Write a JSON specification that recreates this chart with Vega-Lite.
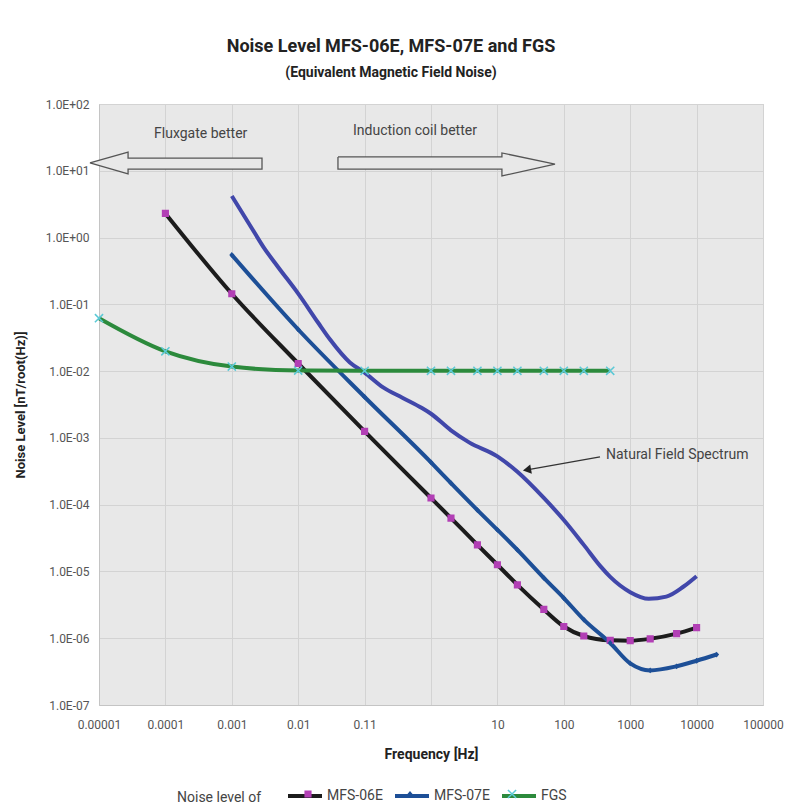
{
  "$schema": "https://vega.github.io/schema/vega-lite/v6.json",
  "autosize": {"type": "none"},
  "padding": {"left": 99, "top": 104, "right": 27, "bottom": 100},
  "width": 664,
  "height": 601,
  "background": "white",
  "title": {
    "text": "Noise Level MFS-06E, MFS-07E and FGS",
    "subtitle": "(Equivalent Magnetic Field Noise)",
    "anchor": "middle",
    "frame": "group",
    "dx": -40,
    "offset": 18,
    "font": "Roboto",
    "fontSize": 18,
    "fontWeight": "bold",
    "color": "#222222",
    "subtitleFont": "Roboto",
    "subtitleFontSize": 14,
    "subtitleFontWeight": "bold",
    "subtitleColor": "#222222",
    "subtitlePadding": 10
  },
  "config": {
    "view": {"fill": "#e8e8e8", "stroke": "#cacaca"},
    "axis": {
      "gridColor": "#d3d3d3",
      "gridWidth": 1,
      "tickSize": 0,
      "domainColor": "#c4c4c4",
      "labelFont": "Roboto",
      "labelFontSize": 12,
      "labelColor": "#555555",
      "titleFont": "Roboto",
      "titleFontSize": 13,
      "titleFontWeight": "bold",
      "titleColor": "#222222"
    }
  },
  "datasets": {
    "curves": [
      {"series": "MFS-06E", "f": 0.0001, "v": 2.3},
      {"series": "MFS-06E", "f": 0.001, "v": 0.144},
      {"series": "MFS-06E", "f": 0.01, "v": 0.013},
      {"series": "MFS-06E", "f": 0.1, "v": 0.00125},
      {"series": "MFS-06E", "f": 1, "v": 0.000126},
      {"series": "MFS-06E", "f": 2, "v": 0.000063},
      {"series": "MFS-06E", "f": 5, "v": 0.000025},
      {"series": "MFS-06E", "f": 10, "v": 0.0000126},
      {"series": "MFS-06E", "f": 20, "v": 0.0000063},
      {"series": "MFS-06E", "f": 50, "v": 0.0000027},
      {"series": "MFS-06E", "f": 100, "v": 0.0000015},
      {"series": "MFS-06E", "f": 200, "v": 0.00000108},
      {"series": "MFS-06E", "f": 500, "v": 0.00000093},
      {"series": "MFS-06E", "f": 1000, "v": 0.00000092},
      {"series": "MFS-06E", "f": 2000, "v": 0.00000098},
      {"series": "MFS-06E", "f": 5000, "v": 0.00000117},
      {"series": "MFS-06E", "f": 10000, "v": 0.00000144},
      {"series": "MFS-07E", "f": 0.001, "v": 0.55},
      {"series": "MFS-07E", "f": 0.01, "v": 0.042},
      {"series": "MFS-07E", "f": 0.1, "v": 0.0041},
      {"series": "MFS-07E", "f": 1, "v": 0.00043},
      {"series": "MFS-07E", "f": 2, "v": 0.00021},
      {"series": "MFS-07E", "f": 5, "v": 0.000083},
      {"series": "MFS-07E", "f": 10, "v": 0.000042},
      {"series": "MFS-07E", "f": 20, "v": 0.000021},
      {"series": "MFS-07E", "f": 50, "v": 0.000008},
      {"series": "MFS-07E", "f": 100, "v": 0.000004},
      {"series": "MFS-07E", "f": 200, "v": 0.0000019},
      {"series": "MFS-07E", "f": 500, "v": 0.00000085},
      {"series": "MFS-07E", "f": 1000, "v": 0.00000042},
      {"series": "MFS-07E", "f": 2000, "v": 0.00000033},
      {"series": "MFS-07E", "f": 5000, "v": 0.00000038},
      {"series": "MFS-07E", "f": 10000, "v": 0.00000046},
      {"series": "MFS-07E", "f": 20000, "v": 0.00000057},
      {"series": "FGS", "f": 0.00001, "v": 0.062},
      {"series": "FGS", "f": 0.0001, "v": 0.0198},
      {"series": "FGS", "f": 0.001, "v": 0.0117},
      {"series": "FGS", "f": 0.01, "v": 0.0102},
      {"series": "FGS", "f": 0.1, "v": 0.0101},
      {"series": "FGS", "f": 1, "v": 0.0101},
      {"series": "FGS", "f": 2, "v": 0.0101},
      {"series": "FGS", "f": 5, "v": 0.0101},
      {"series": "FGS", "f": 10, "v": 0.0101},
      {"series": "FGS", "f": 20, "v": 0.0101},
      {"series": "FGS", "f": 50, "v": 0.0101},
      {"series": "FGS", "f": 100, "v": 0.0101},
      {"series": "FGS", "f": 200, "v": 0.0101},
      {"series": "FGS", "f": 500, "v": 0.0101}
    ],
    "nfs": [
      {"f": 0.001, "v": 4.2},
      {"f": 0.002, "v": 1.38},
      {"f": 0.003, "v": 0.72},
      {"f": 0.005, "v": 0.36},
      {"f": 0.01, "v": 0.145},
      {"f": 0.02, "v": 0.053},
      {"f": 0.03, "v": 0.03},
      {"f": 0.06, "v": 0.0135},
      {"f": 0.1, "v": 0.0095},
      {"f": 0.19, "v": 0.0057},
      {"f": 0.37, "v": 0.004},
      {"f": 0.73, "v": 0.0028},
      {"f": 1, "v": 0.0023},
      {"f": 2, "v": 0.0013},
      {"f": 3.8, "v": 0.00085},
      {"f": 10, "v": 0.00053},
      {"f": 20, "v": 0.00031},
      {"f": 50, "v": 0.000126},
      {"f": 100, "v": 0.000059},
      {"f": 200, "v": 0.000025},
      {"f": 355, "v": 0.000012},
      {"f": 500, "v": 0.0000083},
      {"f": 1000, "v": 0.0000049},
      {"f": 1900, "v": 0.0000039},
      {"f": 3500, "v": 0.0000042},
      {"f": 6300, "v": 0.0000059},
      {"f": 10000, "v": 0.0000085}
    ],
    "arrows": [
      {"arrow": "left", "i": 0, "f": 0.0000073, "v": 13.1},
      {"arrow": "left", "i": 1, "f": 0.0000274, "v": 19.1},
      {"arrow": "left", "i": 2, "f": 0.0000274, "v": 15.5},
      {"arrow": "left", "i": 3, "f": 0.00285, "v": 15.5},
      {"arrow": "left", "i": 4, "f": 0.00285, "v": 10.6},
      {"arrow": "left", "i": 5, "f": 0.0000274, "v": 10.6},
      {"arrow": "left", "i": 6, "f": 0.0000274, "v": 8.96},
      {"arrow": "left", "i": 7, "f": 0.0000073, "v": 13.1},
      {"arrow": "right", "i": 0, "f": 0.0397, "v": 16.1},
      {"arrow": "right", "i": 1, "f": 11.7, "v": 16.1},
      {"arrow": "right", "i": 2, "f": 11.7, "v": 18.5},
      {"arrow": "right", "i": 3, "f": 73.7, "v": 12.6},
      {"arrow": "right", "i": 4, "f": 11.7, "v": 8.36},
      {"arrow": "right", "i": 5, "f": 11.7, "v": 10.6},
      {"arrow": "right", "i": 6, "f": 0.0397, "v": 10.6},
      {"arrow": "right", "i": 7, "f": 0.0397, "v": 16.1}
    ],
    "pointer": [
      {"end": "tail", "f": 351, "v": 0.00052},
      {"end": "head", "f": 27.9, "v": 0.000332}
    ],
    "centerNotes": [
      {"label": "Fluxgate better", "f": 0.00034, "v": 35.6},
      {"label": "Induction coil better", "f": 0.574, "v": 39.4}
    ],
    "leftNotes": [
      {"label": "Natural Field Spectrum", "f": 432, "v": 0.000557}
    ]
  },
  "layer": [
    {
      "data": {"name": "nfs"},
      "mark": {"type": "line", "stroke": "#4147aa", "strokeWidth": 4, "interpolate": "monotone"},
      "encoding": {
        "x": {
          "field": "f", "type": "quantitative",
          "scale": {"type": "log", "domain": [0.00001, 100000], "nice": false},
          "axis": {
            "values": [0.00001, 0.0001, 0.001, 0.01, 0.1, 1, 10, 100, 1000, 10000, 100000],
            "labelExpr": "datum.value == 0.1 ? '0.11' : (datum.value == 1 ? '' : format(datum.value, '.5~f'))",
            "title": "Frequency [Hz]",
            "titleFontSize": 14,
            "labelPadding": 14,
            "titlePadding": 17,
            "labelOverlap": false,
            "labelFlush": false
          }
        },
        "y": {
          "field": "v", "type": "quantitative",
          "scale": {"type": "log", "domain": [0.0000001, 100], "nice": false},
          "axis": {
            "values": [0.0000001, 0.000001, 0.00001, 0.0001, 0.001, 0.01, 0.1, 1, 10, 100],
            "labelExpr": "'1.0E' + (datum.value < 0.5 ? '-0' : '+0') + abs(round(log(datum.value) / LN10))",
            "title": "Noise Level [nT/root(Hz)]",
            "labelPadding": 10,
            "titlePadding": 18,
            "labelOverlap": false,
            "labelFlush": false
          }
        }
      }
    },
    {
      "data": {"name": "arrows"},
      "mark": {"type": "line", "stroke": "#555555", "strokeWidth": 1.3, "fill": "#e8e8e8"},
      "encoding": {
        "x": {"field": "f", "type": "quantitative"},
        "y": {"field": "v", "type": "quantitative"},
        "detail": {"field": "arrow"},
        "order": {"field": "i", "type": "quantitative"}
      }
    },
    {
      "data": {"name": "curves"},
      "mark": {"type": "line", "strokeWidth": 4, "interpolate": "monotone"},
      "encoding": {
        "x": {"field": "f", "type": "quantitative"},
        "y": {"field": "v", "type": "quantitative"},
        "stroke": {
          "field": "series", "type": "nominal",
          "sort": ["MFS-06E", "MFS-07E", "FGS"],
          "scale": {"range": ["#1c1c1c", "#1d4f97", "#2c8a3c"]},
          "legend": {
            "orient": "none", "legendX": 78, "legendY": 673,
            "direction": "horizontal", "columns": 3,
            "title": "Noise level of", "titleOrient": "left", "titleAnchor": "middle", "titleBaseline": "top",
            "titleFont": "Roboto", "titleFontSize": 14, "titleFontWeight": "normal", "titleColor": "#444444",
            "titlePadding": 24,
            "symbolType": "stroke", "symbolSize": 1156, "symbolStrokeWidth": 4,
            "labelFont": "Roboto", "labelFontSize": 14, "labelColor": "#444444",
            "labelOffset": 3, "columnPadding": 4
          }
        }
      }
    },
    {
      "data": {"name": "curves"},
      "mark": {"type": "point", "filled": true, "opacity": 1, "size": 1156, "strokeWidth": 0},
      "encoding": {
        "x": {"field": "f", "type": "quantitative"},
        "y": {"field": "v", "type": "quantitative"},
        "fill": {
          "field": "series", "type": "nominal",
          "scale": {"domain": ["MFS-06E", "MFS-07E", "FGS"], "range": ["#b23fb5", "#1d4f97", "#5cc9d6"]},
          "legend": {
            "orient": "none", "legendX": 78, "legendY": 673,
            "direction": "horizontal", "columns": 3,
            "title": "Noise level of", "titleOrient": "left", "titleAnchor": "middle", "titleBaseline": "top",
            "titleFont": "Roboto", "titleFontSize": 14, "titleFontWeight": "normal", "titleColor": "transparent",
            "titlePadding": 24,
            "symbolSize": 1156, "symbolStrokeWidth": 0, "symbolOffset": 5,
            "labelFont": "Roboto", "labelFontSize": 14, "labelColor": "transparent",
            "labelOffset": 3, "columnPadding": 4
          }
        },
        "shape": {
          "field": "series", "type": "nominal",
          "scale": {"domain": ["MFS-06E", "MFS-07E", "FGS"], "range": [
            "M-1.118,0L1.118,0M-0.21,-0.21H0.21V0.21H-0.21Z",
            "M-1.118,0L1.118,0M0,-0.17L0.15,0L0,0.17L-0.15,0Z",
            "M-1.118,0L1.118,0M-0.208,-0.272L0.272,0.208L0.208,0.272L-0.272,-0.208ZM0.208,-0.272L0.272,-0.208L-0.208,0.272L-0.272,0.208Z"
          ]}
        }
      }
    },
    {
      "data": {"name": "pointer"},
      "mark": {"type": "line", "stroke": "#333333", "strokeWidth": 1.2},
      "encoding": {
        "x": {"field": "f", "type": "quantitative"},
        "y": {"field": "v", "type": "quantitative"}
      }
    },
    {
      "data": {"name": "pointer"},
      "transform": [{"filter": "datum.end == 'head'"}],
      "mark": {"type": "point", "shape": "triangle-left", "filled": true, "fill": "#222222", "opacity": 1, "size": 90, "angle": 350},
      "encoding": {
        "x": {"field": "f", "type": "quantitative"},
        "y": {"field": "v", "type": "quantitative"}
      }
    },
    {
      "data": {"name": "centerNotes"},
      "mark": {"type": "text", "font": "Roboto", "fontSize": 14, "color": "#444444", "align": "center", "baseline": "middle"},
      "encoding": {
        "x": {"field": "f", "type": "quantitative"},
        "y": {"field": "v", "type": "quantitative"},
        "text": {"field": "label"}
      }
    },
    {
      "data": {"name": "leftNotes"},
      "mark": {"type": "text", "font": "Roboto", "fontSize": 14, "color": "#444444", "align": "left", "baseline": "middle"},
      "encoding": {
        "x": {"field": "f", "type": "quantitative"},
        "y": {"field": "v", "type": "quantitative"},
        "text": {"field": "label"}
      }
    }
  ]
}
